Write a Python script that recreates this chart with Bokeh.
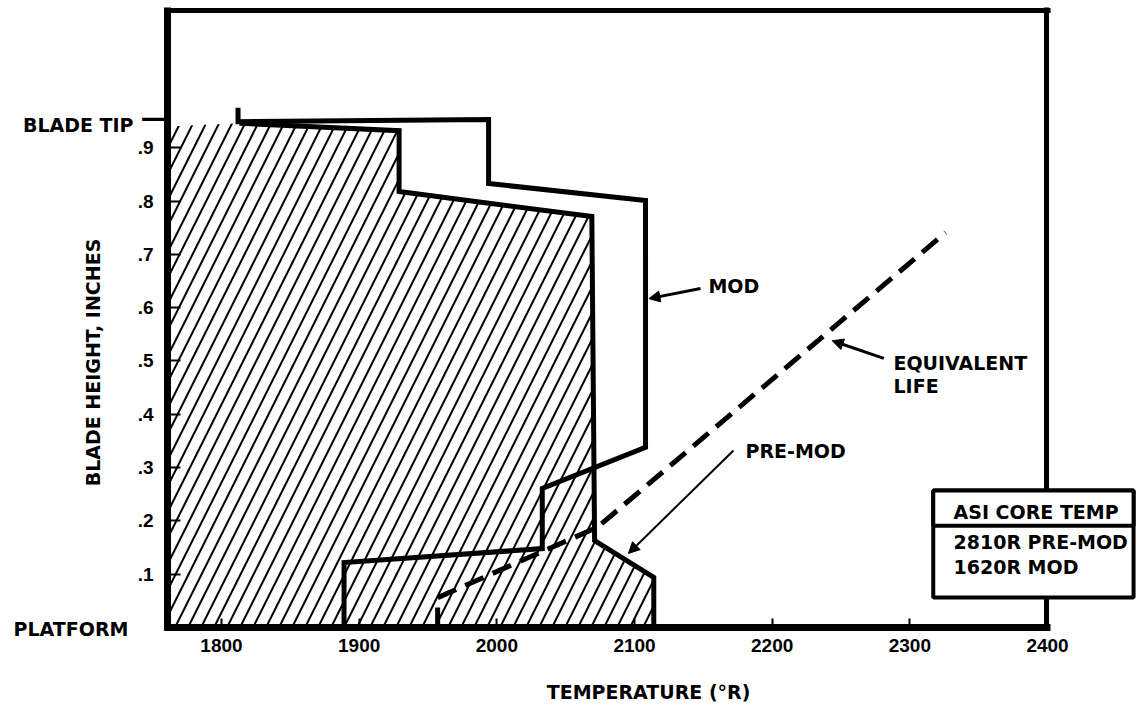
import math
from bokeh.plotting import figure
from bokeh.models import (Range1d, FixedTicker, LinearAxis, BoxAnnotation,
                          Label, Arrow, NormalHead, CustomJSTickFormatter)
from bokeh.embed import file_html
from bokeh.resources import INLINE

# ---------------- data ----------------
temp_ticks = [1800, 1900, 2000, 2100, 2200, 2300, 2400]
height_ticks = [0.1, 0.2, 0.3, 0.4, 0.5, 0.6, 0.7, 0.8, 0.9]

# MOD temperature profile (outline only)
mod_temp = [1812, 1812, 1994, 1994, 2108, 2108, 2033, 2033, 1889, 1889]
mod_height = [0.975, 0.949, 0.953, 0.833, 0.801, 0.338, 0.261, 0.148, 0.122, 0.0]

# PRE-MOD temperature profile (hatched region)
premod_temp = [1813, 1929, 1929, 2069, 2071, 2114, 2114]
premod_height = [0.946, 0.932, 0.818, 0.771, 0.163, 0.094, 0.0]

# Equivalent life line (dashed)
equiv_temp = [1957, 1957, 2073, 2326]
equiv_height = [0.0, 0.056, 0.188, 0.741]

legend_title = "ASI CORE TEMP"
legend_rows = ["2810R PRE-MOD", "1620R MOD"]

# ---------------- figure ----------------
# axes box of the chart (data units)
X0, XR = 1760.8, 2400.0      # left frame line, right frame line
Y0, YT = 0.0, 1.1576         # bottom frame line, top frame line
# whole canvas in data units (axes are drawn at fixed locations)
CX0, CX1 = 1639.47, 2464.63
CY0, CY1 = -0.14822, 1.17636
PX = 1.3767   # px per degree
PY = 533.0    # px per inch

LETTER_FONT = "DejaVu Sans"
DIGIT_FONT = "Liberation Sans"

p = figure(width=1136, height=706, x_range=Range1d(CX0, CX1), y_range=Range1d(CY0, CY1),
           output_backend="svg", toolbar_location=None,
           min_border_left=0, min_border_right=0, min_border_top=0, min_border_bottom=0)
p.grid.visible = False
p.outline_line_color = None
p.background_fill_color = "white"
p.border_fill_color = "white"

# hatched PRE-MOD area, bounded by the left frame
hatch_x = [X0, X0] + premod_temp
hatch_y = [0.0, 0.94] + premod_height
p.patch(hatch_x, hatch_y, fill_color=None, line_color=None,
        hatch_pattern="/", hatch_color="black", hatch_weight=2, hatch_scale=26)

p.line(premod_temp, premod_height, line_width=5, line_color="black", line_join="miter")
p.line(mod_temp, mod_height, line_width=5, line_color="black", line_join="miter")
p.line(equiv_temp, equiv_height, line_width=5, line_color="black", line_dash="20 10")

# ---------------- axes ----------------
ex_x = 3.5 / PX
ex_y = 3.5 / PY

xa = p.xaxis[0]
xa.fixed_location = Y0
xa.ticker = FixedTicker(ticks=temp_ticks)
xa.bounds = (X0 - ex_x, XR + 2.5 / PX)
xa.axis_line_width = 7
xa.major_tick_in = 9
xa.major_tick_out = 0
xa.major_tick_line_width = 2
xa.minor_tick_in = 0
xa.minor_tick_out = 0
xa.major_label_standoff = 12
xa.major_label_text_font = DIGIT_FONT
xa.major_label_text_font_style = "bold"
xa.major_label_text_font_size = "19px"
xa.major_label_text_color = "black"

ya = p.yaxis[0]
ya.fixed_location = X0
ya.ticker = FixedTicker(ticks=height_ticks)
ya.bounds = (Y0 - ex_y, YT + 2.5 / PY)
ya.axis_line_width = 7
ya.major_tick_in = 13
ya.major_tick_out = 0
ya.major_tick_line_width = 2
ya.minor_tick_in = 0
ya.minor_tick_out = 0
ya.major_label_standoff = 14
ya.major_label_text_font = DIGIT_FONT
ya.major_label_text_font_style = "bold"
ya.major_label_text_font_size = "19px"
ya.major_label_text_color = "black"
ya.formatter = CustomJSTickFormatter(code="return tick.toFixed(1).replace(/^0/, '');")

def frame_axis(loc, bounds, width):
    return LinearAxis(ticker=FixedTicker(ticks=[]), fixed_location=loc, bounds=bounds,
                      axis_line_width=width, major_tick_in=0, major_tick_out=0,
                      minor_tick_in=0, minor_tick_out=0, major_label_text_font_size="0px")

p.add_layout(frame_axis(YT, (X0 - ex_x, XR + 2.5 / PX), 5), "above")
p.add_layout(frame_axis(XR - 1.5 / PX, (Y0 - ex_y, YT + 2.5 / PY), 5), "right")

# ---------------- legend box ----------------
p.add_layout(BoxAnnotation(left=2317, right=2462.5, top=0.257, bottom=0.0563,
                           fill_color="white", fill_alpha=1.0,
                           line_color="black", line_width=4, line_alpha=1.0, level="overlay"))
p.add_layout(BoxAnnotation(left=2317, right=2462.5, top=0.257, bottom=0.191,
                           fill_color="white", fill_alpha=1.0,
                           line_color="black", line_width=4, line_alpha=1.0, level="overlay"))

def lab(text, x, y, align="left", angle=0.0, font=LETTER_FONT, size="19px", level="annotation"):
    p.add_layout(Label(x=x, y=y, text=text, text_align=align, text_baseline="middle",
                       angle=angle, text_font=font, text_font_style="bold",
                       text_font_size=size, text_color="black", level=level))

lab(legend_title, 2331.7, 0.2176, level="overlay")
lab(legend_rows[0], 2331.7, 0.161, level="overlay")
lab(legend_rows[1], 2331.7, 0.1144, level="overlay")

# ---------------- annotations ----------------
lab("MOD", 2153.7, 0.640)
lab("EQUIVALENT", 2288.1, 0.497)
lab("LIFE", 2288.1, 0.454)
lab("PRE-MOD", 2180.6, 0.332)

head = dict(fill_color="black", line_color="black")
p.add_layout(Arrow(end=NormalHead(size=11, **head), x_start=2147.9, y_start=0.636,
                   x_end=2110.5, y_end=0.617, line_width=3, line_color="black"))
p.add_layout(Arrow(end=NormalHead(size=11, **head), x_start=2281.1, y_start=0.505,
                   x_end=2243.6, y_end=0.538, line_width=3, line_color="black"))
p.add_layout(Arrow(end=NormalHead(size=11, **head), x_start=2171.9, y_start=0.332,
                   x_end=2095.6, y_end=0.139, line_width=2, line_color="black"))

# axis titles and end labels
lab("TEMPERATURE (°R)", 2110.2, -0.1201, align="center")
lab("BLADE HEIGHT, INCHES", 1706.3, 0.4972, align="center", angle=math.pi / 2)
lab("PLATFORM", 1732.4, -0.0019, align="right")
lab("BLADE TIP", 1736.1, 0.9437, align="right")
lab("\u2014", 1750.5, 0.957, align="center", size="25px")

open("out.html", "w").write(file_html(p, INLINE))
